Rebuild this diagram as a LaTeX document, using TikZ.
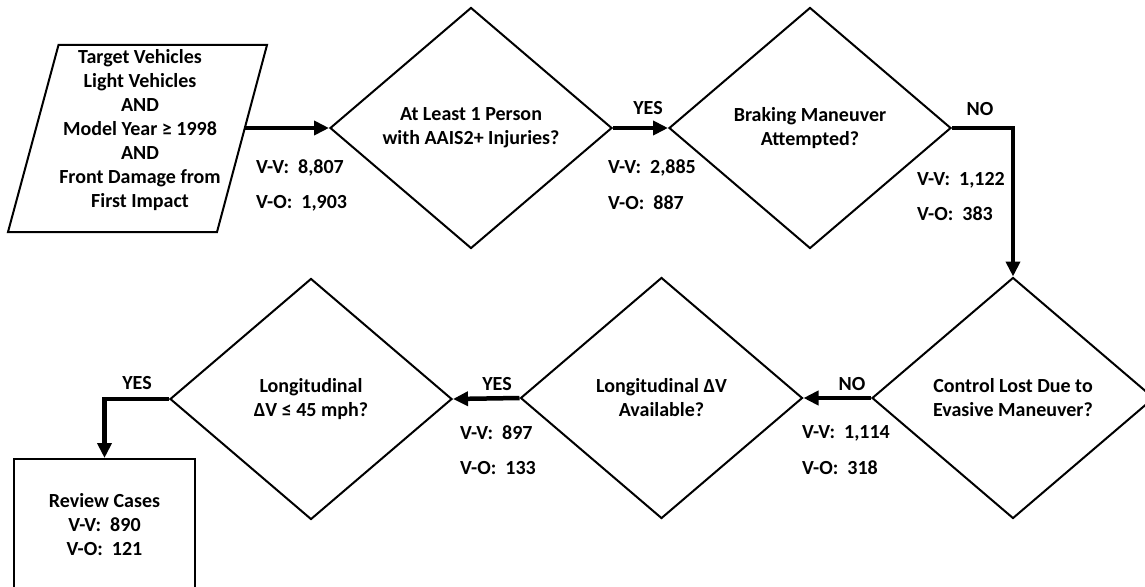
\documentclass[tikz,border=0pt]{standalone}
\usepackage{fontspec}
\setmainfont{Carlito}
\usetikzlibrary{shapes.geometric,arrows.meta}
\begin{document}
\begin{tikzpicture}[x=1pt,y=-1pt,
  txt/.style={font=\fontsize{20}{24}\selectfont\bfseries},
  decision/.style={diamond, draw, line width=2pt, minimum width=282pt,
    minimum height=241pt, inner sep=0pt, align=center, txt},
  flow/.style={line width=4.5pt, line join=miter,
    -{Triangle[length=15pt,width=14pt]}},
  count/.style={txt, anchor=west, inner sep=0pt},
  answer/.style={txt, inner sep=0pt}]
\clip (0,0) rectangle (1145,586);

% input parallelogram
\draw[line width=2pt, line join=miter] (58.5,45) -- (267,45) -- (217,232) -- (8,232) -- cycle;
\node[txt, align=center] (tv) at (140,130)
  {Target Vehicles\\Light Vehicles\\AND\\Model Year ≥ 1998\\AND\\Front Damage from\\First Impact};
\coordinate (src) at (244.5,128);

% decisions
\node[decision] (d1) at (471,128) {At Least 1 Person\\with AAIS2+ Injuries?};
\node[decision] (d2) at (810,128) {Braking Maneuver\\Attempted?};
\node[decision] (d3) at (1013,398) {Control Lost Due to\\Evasive Maneuver?};
\node[decision] (d4) at (661.5,398) {Longitudinal ΔV\\Available?};
\node[decision] (d5) at (311,399) {Longitudinal\\ΔV ≤ 45 mph?};

% result box
\node[draw, line width=2pt, minimum width=181pt, minimum height=132pt, anchor=north,
  align=center, txt] (rc) at (104.5,458) {Review Cases\\V-V:~~890\\V-O:~~121};

% connectors
\draw[flow] (src) -- (d1.west);
\draw[flow] (d1.east) -- (d2.west);
\draw[flow] (d2.east) -| (d3.north);
\draw[flow] (d3.west) -- (d4.east);
\draw[flow] (d4.west) -- (d5.east);
\draw[flow] (d5.west) -| (rc.north);

% branch answers and counts
\node[answer] (a1) at (648,108) {YES};
\node[answer] (a2) at (980,109) {NO};
\node[answer] (a3) at (852,384) {NO};
\node[answer] (a4) at (497,384) {YES};
\node[answer] (a5) at (137,383) {YES};

\node[count] (c1v) at (256,168) {V-V:~~8,807};
\node[count] (c1o) at (256,203) {V-O:~~1,903};
\node[count] (c2v) at (608,168) {V-V:~~2,885};
\node[count] (c2o) at (608,203) {V-O:~~887};
\node[count] (c3v) at (917,180) {V-V:~~1,122};
\node[count] (c3o) at (917,214) {V-O:~~383};
\node[count] (c4v) at (802,433) {V-V:~~1,114};
\node[count] (c4o) at (802,468) {V-O:~~318};
\node[count] (c5v) at (460,433) {V-V:~~897};
\node[count] (c5o) at (460,468) {V-O:~~133};
\end{tikzpicture}
\end{document}
